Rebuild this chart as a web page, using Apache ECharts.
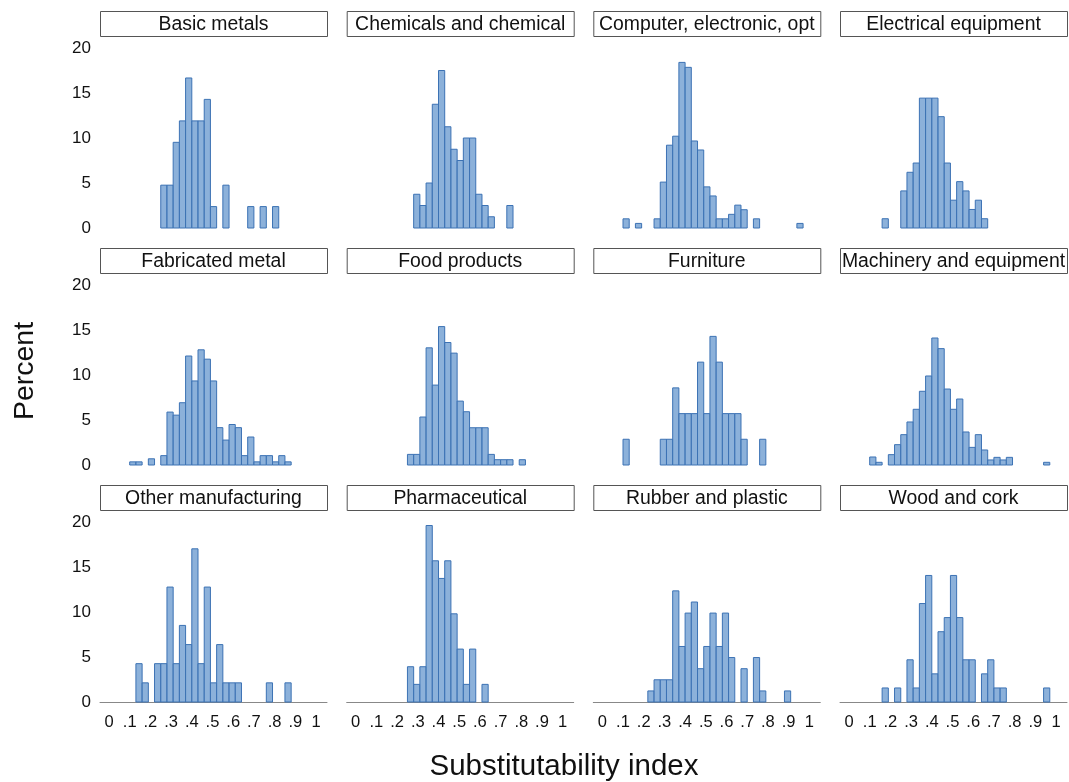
<!DOCTYPE html>
<html>
<head>
<meta charset="utf-8">
<script src="https://cdn.jsdelivr.net/npm/echarts@6/dist/echarts.min.js"></script>
<style>
  html, body { margin: 0; padding: 0; background: #ffffff; }
  #chart { width: 1069px; height: 782px; }
</style>
</head>
<body>
<div id="chart"></div>
<script>
// Histogram bins shared by every industry panel
const BIN_START = 0.1;
const BIN_WIDTH = 0.03;

const panelTitles = [
  'Basic metals', 'Chemicals and chemical', 'Computer, electronic, opt', 'Electrical equipment',
  'Fabricated metal', 'Food products', 'Furniture', 'Machinery and equipment',
  'Other manufacturing', 'Pharmaceutical', 'Rubber and plastic', 'Wood and cork'
];

// Percent of firms in each bin (bin k covers BIN_START + k*BIN_WIDTH)
const basicMetals   = [0, 0, 0, 0, 0, 4.76, 4.76, 9.52, 11.90, 16.67, 11.90, 11.90, 14.29, 2.38, 0, 4.76, 0, 0, 0, 2.38, 0, 2.38, 0, 2.38, 0, 0, 0, 0, 0, 0];
const chemicals     = [0, 0, 0, 0, 0, 0, 3.75, 2.50, 5.00, 13.75, 17.50, 11.25, 8.75, 7.50, 10.00, 10.00, 3.75, 2.50, 1.25, 0, 0, 2.50, 0, 0, 0, 0, 0, 0, 0, 0];
const computer      = [1.02, 0, 0.51, 0, 0, 1.02, 5.10, 9.20, 10.20, 18.40, 17.85, 9.67, 8.67, 4.57, 3.56, 1.02, 1.02, 1.52, 2.54, 2.03, 0, 1.02, 0, 0, 0, 0, 0, 0, 0.51, 0];
const electrical    = [0, 0, 1.03, 0, 0, 4.12, 6.19, 7.22, 14.43, 14.43, 14.43, 12.37, 7.22, 3.09, 5.15, 4.12, 2.06, 3.09, 1.03, 0, 0, 0, 0, 0, 0, 0, 0, 0, 0, 0];
const fabricated    = [0.35, 0.35, 0, 0.69, 0, 1.04, 5.88, 5.54, 6.92, 12.11, 9.34, 12.80, 11.76, 9.34, 4.15, 2.77, 4.50, 4.15, 1.04, 3.11, 0.35, 1.04, 1.04, 0.35, 1.04, 0.35, 0, 0, 0, 0];
const food          = [0, 0, 0, 0, 0, 1.18, 1.18, 5.33, 13.02, 8.88, 15.38, 13.61, 12.43, 7.10, 5.92, 4.14, 4.14, 4.14, 1.18, 0.59, 0.59, 0.59, 0, 0.59, 0, 0, 0, 0, 0, 0];
const furniture     = [2.86, 0, 0, 0, 0, 0, 2.86, 2.86, 8.57, 5.71, 5.71, 5.71, 11.43, 5.71, 14.29, 11.43, 5.71, 5.71, 5.71, 2.86, 0, 0, 2.86, 0, 0, 0, 0, 0, 0, 0];
const machinery     = [0.89, 0.30, 0, 1.15, 2.26, 3.37, 4.78, 6.19, 8.19, 9.89, 14.11, 12.93, 8.44, 6.19, 7.33, 3.67, 1.96, 3.37, 1.67, 0.56, 0.85, 0.56, 0.85, 0, 0, 0, 0, 0, 0.30, 0];
const otherManuf    = [0, 4.26, 2.13, 0, 4.26, 4.26, 12.77, 4.26, 8.51, 6.38, 17.02, 4.26, 12.77, 2.13, 6.38, 2.13, 2.13, 2.13, 0, 0, 0, 0, 2.13, 0, 0, 2.13, 0, 0, 0, 0];
const pharma        = [0, 0, 0, 0, 0, 3.92, 1.96, 3.92, 19.61, 15.69, 13.73, 15.69, 9.80, 5.88, 1.96, 5.88, 0, 1.96, 0, 0, 0, 0, 0, 0, 0, 0, 0, 0, 0, 0];
const rubber        = [0, 0, 0, 0, 1.23, 2.47, 2.47, 2.47, 12.35, 6.17, 9.88, 11.11, 3.70, 6.17, 9.88, 6.17, 9.88, 4.94, 0, 3.70, 0, 4.94, 1.23, 0, 0, 0, 1.23, 0, 0, 0];
const wood          = [0, 0, 1.56, 0, 1.56, 0, 4.69, 1.56, 10.94, 14.06, 3.13, 7.81, 9.38, 14.06, 9.38, 4.69, 4.69, 0, 3.13, 4.69, 1.56, 1.56, 0, 0, 0, 0, 0, 0, 1.56, 0];

const panelValues = [basicMetals, chemicals, computer, electrical, fabricated, food,
                     furniture, machinery, otherManuf, pharma, rubber, wood];

const xTickValues = [0, 0.1, 0.2, 0.3, 0.4, 0.5, 0.6, 0.7, 0.8, 0.9, 1];
const xTickLabels = ['0', '.1', '.2', '.3', '.4', '.5', '.6', '.7', '.8', '.9', '1'];
const yTickValues = [0, 5, 10, 15, 20];

// Layout of the 4 x 3 panel grid
const colLeft = [100, 346.7, 593.3, 840];
const panelWidth = 227;
const headerTop = [11, 248, 485];
const headerHeight = 25;
const plotHeight = 192;
const pxPerUnitX = 207;
const xMin = -9 / pxPerUnitX;
const xMax = (panelWidth - 9) / pxPerUnitX;
const yMax = plotHeight / 9;

const FONT = '"Liberation Sans", Arial, sans-serif';
const BAR_FILL = 'rgba(120,163,212,0.85)';
const BAR_EDGE = '#3c72b4';

const grids = [], xAxes = [], yAxes = [], series = [], graphics = [];

panelValues.forEach((vals, i) => {
  const col = i % 4, row = Math.floor(i / 4);
  const top = headerTop[row] + headerHeight;
  grids.push({ left: colLeft[col], top: top, width: panelWidth, height: plotHeight });

  xAxes.push({
    type: 'value', gridIndex: i, min: xMin, max: xMax,
    splitLine: { show: false },
    axisLine: { show: row === 2, onZero: false, lineStyle: { color: '#888', width: 1 } },
    axisTick: { show: false },
    axisLabel: {
      show: row === 2, customValues: xTickValues,
      formatter: v => xTickLabels[xTickValues.findIndex(t => Math.abs(t - v) < 1e-6)] || '',
      color: '#111', fontSize: 16.5, fontFamily: FONT, margin: 12
    }
  });

  yAxes.push({
    type: 'value', gridIndex: i, min: 0, max: yMax,
    splitLine: { show: false },
    axisLine: { show: false },
    axisTick: { show: false },
    axisLabel: {
      show: col === 0, customValues: yTickValues,
      color: '#111', fontSize: 17, fontFamily: FONT, margin: 9
    }
  });

  const data = [];
  vals.forEach((v, k) => {
    if (v > 0) {
      const lo = BIN_START + k * BIN_WIDTH;
      data.push([lo, lo + BIN_WIDTH, v]);
    }
  });

  series.push({
    type: 'custom', xAxisIndex: i, yAxisIndex: i, data: data, silent: true,
    renderItem: (params, api) => {
      const p0 = api.coord([api.value(0), 0]);
      const p1 = api.coord([api.value(1), api.value(2)]);
      return {
        type: 'rect',
        shape: { x: p0[0], y: p1[1], width: p1[0] - p0[0], height: p0[1] - p1[1] },
        style: { fill: BAR_FILL, stroke: BAR_EDGE, lineWidth: 1 }
      };
    }
  });

  // Panel header strip
  graphics.push({
    type: 'rect', left: colLeft[col], top: headerTop[row],
    shape: { width: panelWidth, height: headerHeight },
    style: { fill: '#ffffff', stroke: '#555555', lineWidth: 1 }
  });
  graphics.push({
    type: 'text', x: colLeft[col] + panelWidth / 2, y: headerTop[row] + headerHeight / 2 + 1,
    style: { text: panelTitles[i], fill: '#111', font: '19.4px ' + FONT, align: 'center', verticalAlign: 'middle' }
  });
});

graphics.push({
  type: 'text', x: 25, y: 371, rotation: Math.PI / 2,
  style: { text: 'Percent', fill: '#111', font: '28.5px ' + FONT, align: 'center', verticalAlign: 'middle' }
});
graphics.push({
  type: 'text', x: 564, y: 767,
  style: { text: 'Substitutability index', fill: '#111', font: '29.5px ' + FONT, align: 'center', verticalAlign: 'middle' }
});

const chart = echarts.init(document.getElementById('chart'), null, { renderer: 'canvas' });
chart.setOption({
  backgroundColor: '#ffffff',
  animation: false,
  grid: grids,
  xAxis: xAxes,
  yAxis: yAxes,
  series: series,
  graphic: graphics
});
</script>
</body>
</html>
